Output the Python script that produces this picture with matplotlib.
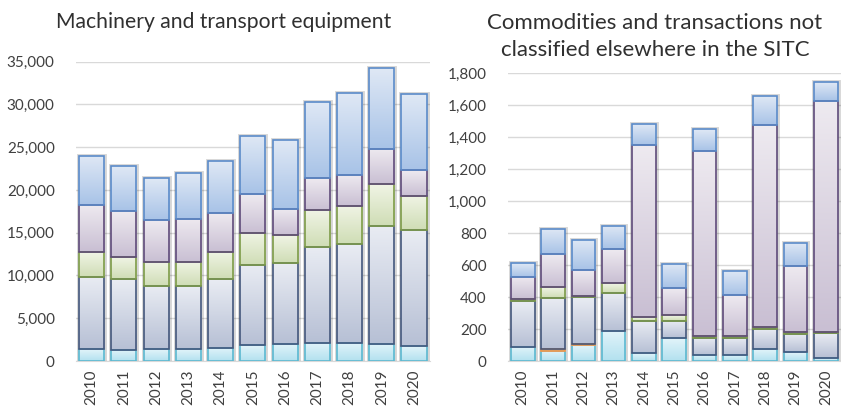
import numpy as np
import matplotlib
matplotlib.use("Agg")
import matplotlib.pyplot as plt
from matplotlib.colors import LinearSegmentedColormap
from matplotlib.ticker import FuncFormatter

plt.rcParams["font.family"] = ["Lato", "DejaVu Sans"]

years = [str(y) for y in range(2010, 2021)]

# Machinery and transport equipment, stacked from the bottom up
mach_s1 = [1370, 1330, 1400, 1400, 1550, 1830, 1990, 2150, 2150, 2000, 1750]
mach_s2 = [0, 0, 0, 0, 0, 0, 0, 0, 0, 0, 0]
mach_s3 = [8460, 8300, 7410, 7340, 8000, 9360, 9440, 11230, 11500, 13830, 13580]
mach_s4 = [2890, 2540, 2810, 2810, 3170, 3820, 3270, 4290, 4520, 4840, 4010]
mach_s5 = [5530, 5380, 4880, 5060, 4600, 4490, 3120, 3700, 3630, 4100, 3010]
mach_s6 = [5770, 5260, 4870, 5350, 6120, 6830, 8040, 8970, 9520, 9470, 8850]

# Commodities and transactions not classified elsewhere
comm_s1 = [90, 63, 100, 190, 48, 142, 38, 38, 73, 54, 17]
comm_s2 = [0, 10, 6, 0, 0, 0, 0, 0, 0, 0, 0]
comm_s3 = [285, 323, 292, 238, 204, 110, 108, 108, 129, 113, 156]
comm_s4 = [11, 65, 9, 62, 25, 36, 12, 12, 13, 14, 6]
comm_s5 = [142, 206, 162, 209, 1075, 167, 1158, 253, 1262, 413, 1448]
comm_s6 = [87, 159, 188, 148, 131, 152, 134, 154, 181, 146, 117]

# (top colour, bottom colour, edge colour) for each series
styles = [
    ("#E2F4FA", "#B3E1EF", "#5BB8D0"),
    ("#FDE3CC", "#F9C08E", "#F79646"),
    ("#E9ECF3", "#B7C0D5", "#44577C"),
    ("#F0F4E5", "#CFDDB5", "#7D9B48"),
    ("#EEEAF0", "#C9BFD3", "#5F4B7A"),
    ("#DFE8F5", "#A8C3E7", "#5B8BC9"),
]

TEXT = "#404040"
GRID = "#D9D9D9"


def gradient_segment(ax, x, bottom, height, width, top_col, bot_col, edge):
    if height <= 0:
        return
    rect = ax.bar(x, height, width, bottom=bottom, facecolor="none",
                  edgecolor=edge, linewidth=1.2, zorder=3)[0]
    cmap = LinearSegmentedColormap.from_list("seg", [bot_col, top_col])
    grad = np.linspace(0, 1, 64).reshape(-1, 1)
    im = ax.imshow(grad, cmap=cmap, origin="lower", aspect="auto",
                   interpolation="bilinear", zorder=2,
                   extent=(x - width / 2, x + width / 2, bottom, bottom + height))
    im.set_clip_path(rect)


def stacked_chart(ax, series, ymax, ystep):
    x = np.arange(len(years))
    width = 0.78
    totals = np.sum(series, axis=0)
    # soft grey halo behind each column
    ax.bar(x, totals, width, facecolor="none", edgecolor=(0, 0, 0, 0.16),
           linewidth=3.5, zorder=1.5)
    bottom = np.zeros(len(years))
    for vals, (top_col, bot_col, edge) in zip(series, styles):
        for i in range(len(years)):
            gradient_segment(ax, x[i], bottom[i], vals[i], width,
                             top_col, bot_col, edge)
        bottom += np.array(vals)

    ax.set_xlim(-0.5, len(years) - 0.5)
    ax.set_ylim(0, ymax)
    ax.set_yticks(np.arange(0, ymax + 1, ystep))
    ax.yaxis.set_major_formatter(FuncFormatter(lambda v, p: f"{v:,.0f}"))
    ax.set_xticks(x)
    ax.set_xticklabels(years, rotation=90)
    ax.tick_params(axis="y", length=0, pad=15, labelsize=11, labelcolor=TEXT)
    ax.tick_params(axis="x", length=0, pad=6, labelsize=11, labelcolor=TEXT)
    ax.yaxis.grid(True, color=GRID, linewidth=1)
    ax.set_axisbelow(True)
    for side in ("top", "right", "left"):
        ax.spines[side].set_visible(False)
    ax.spines["bottom"].set_color(GRID)


fig = plt.figure(figsize=(8.41, 4.07), dpi=100)

ax1 = fig.add_axes([0.0898, 0.113, 0.4217, 0.7354])
stacked_chart(ax1, [mach_s1, mach_s2, mach_s3, mach_s4, mach_s5, mach_s6],
              35000, 5000)

ax2 = fig.add_axes([0.6035, 0.113, 0.3965, 0.7069])
stacked_chart(ax2, [comm_s1, comm_s2, comm_s3, comm_s4, comm_s5, comm_s6],
              1800, 200)

fig.text(224 / 841, 1 - 22 / 407, "Machinery and transport equipment",
         ha="center", va="center", fontsize=15.2, color="#303030")
fig.text(655 / 841, 1 - 23 / 407, "Commodities and transactions not",
         ha="center", va="center", fontsize=16, color="#303030")
fig.text(655 / 841, 1 - 50 / 407, "classified elsewhere in the SITC",
         ha="center", va="center", fontsize=16, color="#303030")

fig.savefig("out.png", dpi=100)
